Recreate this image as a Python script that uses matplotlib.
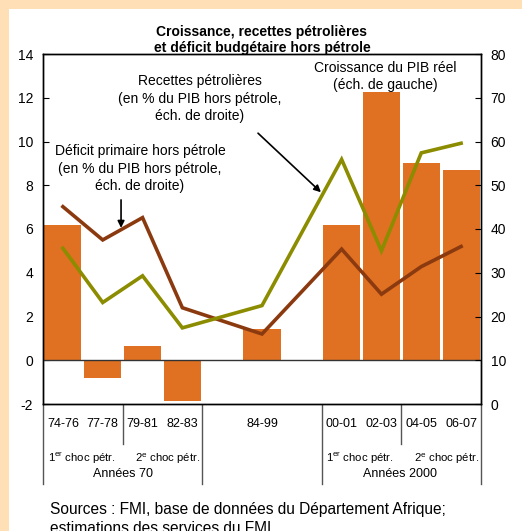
import matplotlib
matplotlib.use("Agg")
import matplotlib.pyplot as plt
import matplotlib.transforms as mtransforms
import numpy as np

plt.rcParams['font.family'] = ['Liberation Sans', 'DejaVu Sans']
plt.rcParams['mathtext.fontset'] = 'custom'
plt.rcParams['mathtext.rm'] = 'Liberation Sans'
plt.rcParams['axes.unicode_minus'] = False

# Periods and slot positions (gaps mark the breaks between periods)
periods = ["74-76", "77-78", "79-81", "82-83", "84-99", "00-01", "02-03", "04-05", "06-07"]
slots = [0, 1, 2, 3, 5, 7, 8, 9, 10]

# Real GDP growth (left scale, %)
croissance_pib = [6.2, -0.8, 0.65, -1.85, 1.42, 6.2, 12.25, 9.0, 8.7]
# Oil revenue (% of non-oil GDP, right scale)
recettes_petrolieres = [35.6, 23.2, 29.3, 17.4, 22.5, 55.9, 35.0, 57.4, 59.6]
# Non-oil primary deficit (% of non-oil GDP, right scale)
deficit_primaire = [45.1, 37.5, 42.6, 22.0, 16.0, 35.4, 25.1, 31.4, 36.0]

left_ticks = [-2, 0, 2, 4, 6, 8, 10, 12, 14]
right_ticks = [0, 10, 20, 30, 40, 50, 60, 70, 80]

W, H = 522, 531
fig = plt.figure(figsize=(W / 100, H / 100), dpi=100)
fig.patch.set_facecolor("white")
# peach frame along the top and left edges
fig.patches.append(plt.Rectangle((0, 1 - 9 / H), 1, 9 / H, transform=fig.transFigure,
                                 facecolor="#FFDFB5", edgecolor="none", zorder=-1))
fig.patches.append(plt.Rectangle((0, 0), 9 / W, 1, transform=fig.transFigure,
                                 facecolor="#FFDFB5", edgecolor="none", zorder=-1))

ax = fig.add_axes([43 / W, 1 - 404 / H, 438 / W, 350 / H])
ax.set_facecolor("white")
ax.set_xlim(-0.5, 10.5)
ax.set_ylim(-2, 14)
ax.set_yticks(left_ticks)
ax.tick_params(axis='y', direction='in', length=4, labelsize=10, pad=7, color='black')
ax.set_xticks([])
for s in ax.spines.values():
    s.set_linewidth(1.0)
    s.set_color("black")

orange = "#E07022"
ax.bar(slots, croissance_pib, width=0.93, color=orange, zorder=2)
ax.axhline(0, color="#333333", lw=1.0, zorder=3)

ax2 = ax.twinx()
ax2.set_ylim(0, 80)
ax2.set_yticks(right_ticks)
ax2.tick_params(axis='y', direction='in', length=4, labelsize=10, pad=7, color='black')
ax2.plot(slots, deficit_primaire, color="#8B3A10", lw=2.6, solid_joinstyle='miter', zorder=4)
ax2.plot(slots, recettes_petrolieres, color="#8C8C00", lw=2.6, solid_joinstyle='miter', zorder=4)
for s in ax2.spines.values():
    s.set_linewidth(1.0)
    s.set_color("black")


def px(x, y):
    return (x / W, 1 - y / H)


# Title
fig.text(*px(262, 40), "Croissance, recettes pétrolières\net déficit budgétaire hors pétrole",
         ha='center', va='center', fontsize=10, fontweight='bold', linespacing=1.25)

# Annotations
fig.text(*px(200, 98.5), "Recettes pétrolières\n(en % du PIB hors pétrole,\néch. de droite)",
         ha='center', va='center', fontsize=10, linespacing=1.3)
fig.text(*px(385, 76.5), "Croissance du PIB réel\n(éch. de gauche)",
         ha='center', va='center', fontsize=10, linespacing=1.3)
fig.text(*px(140, 168.5), "Déficit primaire hors pétrole\n(en % du PIB hors pétrole,\néch. de droite)",
         ha='center', va='center', fontsize=10, linespacing=1.3)

ax.annotate("", xy=(6.48, 7.68), xytext=(4.9, 10.38),
            arrowprops=dict(arrowstyle="-|>", color="black", lw=1.2, mutation_scale=10,
                            shrinkA=0, shrinkB=0), zorder=5)
ax.annotate("", xy=(1.46, 6.05), xytext=(1.46, 7.33),
            arrowprops=dict(arrowstyle="-|>", color="black", lw=1.2, mutation_scale=10,
                            shrinkA=0, shrinkB=0), zorder=5)

# Category axis below the plot
trans = mtransforms.blended_transform_factory(ax.transData, ax.transAxes)
for x, lab in zip(slots, periods):
    ax.text(x, -0.058, lab, transform=trans, ha='center', va='center', fontsize=9)

long_div = [-0.5, 3.5, 6.5, 10.5]
short_div = [1.5, 8.5]
for x in long_div:
    ax.plot([x, x], [-0.003, -0.229], transform=trans, color="#555555", lw=1.0, clip_on=False)
for x in short_div:
    ax.plot([x, x], [-0.003, -0.113], transform=trans, color="#555555", lw=1.0, clip_on=False)

sub_labels = [(0.48, "1$^{\\mathrm{er}}$ choc pétr."), (2.63, "2$^{\\mathrm{e}}$ choc pétr."),
              (7.46, "1$^{\\mathrm{er}}$ choc pétr."), (9.63, "2$^{\\mathrm{e}}$ choc pétr.")]
for x, lab in sub_labels:
    ax.text(x, -0.157, lab, transform=trans, ha='center', va='center', fontsize=8.2)
ax.text(1.5, -0.2, "Années 70", transform=trans, ha='center', va='center', fontsize=9)
ax.text(8.47, -0.2, "Années 2000", transform=trans, ha='center', va='center', fontsize=9)

# Sources
fig.text(*px(50, 502), "Sources : FMI, base de données du Département Afrique;\nestimations des services du FMI.",
         ha='left', va='top', fontsize=11.2, linespacing=1.35)

fig.savefig("out.png", dpi=100, facecolor=fig.get_facecolor())
